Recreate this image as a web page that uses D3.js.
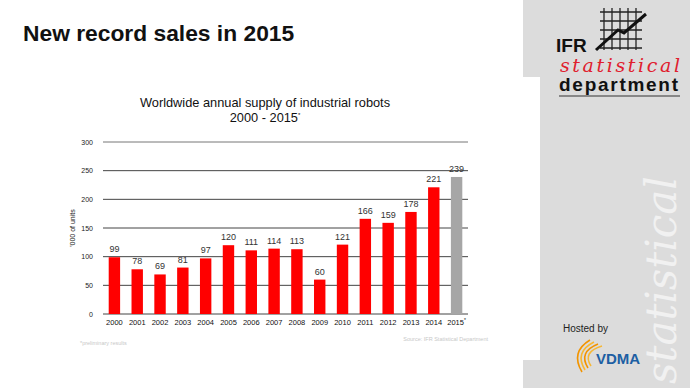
<!DOCTYPE html>
<html>
<head>
<meta charset="utf-8">
<script src="https://cdn.jsdelivr.net/npm/d3@7"></script>
<style>
  body { margin: 0; background: #fff; }
  svg { display: block; font-family: "Liberation Sans", Arial, sans-serif; }
</style>
</head>
<body>
<div id="chart-area"></div>
<script>
// IFR robots chart - worldwide annual supply

const years = ["2000","2001","2002","2003","2004","2005","2006","2007","2008","2009","2010","2011","2012","2013","2014","2015"]
const supply = [99, 78, 69, 81, 97, 120, 111, 114, 113, 60, 121, 166, 159, 178, 221, 239]
const preliminary = ["2015"]
const yTicks = [0, 50, 100, 150, 200, 250, 300]

const W = 690, H = 388
const MARGIN = {LEFT:103, RIGHT:222, TOP:142, BOTTOM:74}
const WIDTH = W - MARGIN.LEFT - MARGIN.RIGHT
const HEIGHT = H - MARGIN.TOP - MARGIN.BOTTOM

const svg = d3.select("#chart-area").append("svg")
    .attr("width", W)
    .attr("height", H)

// side panel
svg.append("path")
    .attr("d", "M523,0 H690 V388 H523 V360 H540 V77 H523 Z")
    .attr("fill", "#dcdcdc")

svg.append("text")
    .attr("transform", "translate(676, 384) rotate(-90)")
    .attr("font-family", "DejaVu Serif")
    .attr("font-style", "italic")
    .attr("font-size", 42)
    .attr("fill", "#fff")
    .attr("opacity", 0.6)
    .text("statistical")

// headline
svg.append("text")
    .attr("x", 23).attr("y", 41)
    .attr("font-size", 22.8)
    .attr("font-weight", "bold")
    .attr("fill", "#111")
    .text("New record sales in 2015")

// logo
const logo = svg.append("g")
const gx = d3.scaleLinear().domain([0, 4]).range([604, 636])
d3.range(5).forEach(i => {
    logo.append("line").attr("x1", gx(i)).attr("x2", gx(i)).attr("y1", 8).attr("y2", 50)
        .attr("stroke", "#222").attr("stroke-width", 1.3)
    logo.append("line").attr("x1", 600).attr("x2", 642).attr("y1", 12 + i * 9).attr("y2", 12 + i * 9)
        .attr("stroke", "#222").attr("stroke-width", 1.3)
})
logo.append("path")
    .attr("d", "M596,50 L618,30 L624,33 L646,14")
    .attr("fill", "none").attr("stroke", "#111").attr("stroke-width", 3)
logo.append("text").attr("x", 556).attr("y", 52)
    .attr("font-size", 19).attr("font-weight", "bold").attr("fill", "#111").text("IFR")
logo.append("text").attr("x", 560).attr("y", 72)
    .attr("font-family", "DejaVu Serif").attr("font-style", "italic")
    .attr("font-size", 19).attr("fill", "#e0202e").attr("textLength", 120).text("statistical")
logo.append("text").attr("x", 559).attr("y", 91)
    .attr("font-size", 19).attr("font-weight", "bold").attr("fill", "#111")
    .attr("textLength", 119).text("department")
logo.append("line").attr("x1", 559).attr("x2", 680).attr("y1", 96).attr("y2", 96)
    .attr("stroke", "#333").attr("stroke-width", 1)

// hosted by / VDMA
svg.append("text").attr("x", 563).attr("y", 332)
    .attr("font-size", 10).attr("fill", "#222").text("Hosted by")
const vd = svg.append("g")
;[0, 1, 2, 3].forEach(i => {
    vd.append("path")
        .attr("d", `M${582 + i * 3},${372 - i * 2} Q${570 + i * 4},${352} ${590 + i * 4},${340 + i * 2}`)
        .attr("fill", "none").attr("stroke", i % 2 ? "#f7b733" : "#f29400").attr("stroke-width", 1.6)
})
vd.append("text").attr("x", 596).attr("y", 364)
    .attr("font-size", 15).attr("font-weight", "bold").attr("fill", "#1d5fa3").text("VDMA")

// chart titles
svg.append("text").attr("x", 265).attr("y", 107)
    .attr("text-anchor", "middle").attr("font-size", 12.8).attr("fill", "#111")
    .text("Worldwide annual supply of industrial robots")
svg.append("text").attr("x", 265).attr("y", 122)
    .attr("text-anchor", "middle").attr("font-size", 12.8).attr("fill", "#111")
    .text("2000 - 2015")
    .append("tspan").attr("font-size", 6).attr("dy", -5).text("*")

const g = svg.append("g")
    .attr("transform", `translate(${MARGIN.LEFT}, ${MARGIN.TOP})`)

const x = d3.scaleBand()
    .domain(years)
    .range([0, WIDTH])
    .paddingInner(0.5)
    .paddingOuter(0.25)

const y = d3.scaleLinear()
    .domain([0, 300])
    .range([HEIGHT, 0])

// gridlines
g.selectAll(".grid").data(yTicks).enter().append("line")
    .attr("class", "grid")
    .attr("x1", 0).attr("x2", WIDTH)
    .attr("y1", d => y(d)).attr("y2", d => y(d))
    .attr("stroke", d => d === 300 ? "#777" : "#444")
    .attr("stroke-width", 1)

const yAxisCall = d3.axisLeft(y).tickValues(yTicks).tickSize(0).tickPadding(10)
const yAx = g.append("g").call(yAxisCall)
yAx.select(".domain").remove()
yAx.selectAll("text").attr("font-size", 7).attr("fill", "#222")

g.append("text")
    .attr("transform", "rotate(-90)")
    .attr("x", -(y(150) - 0)).attr("y", -28)
    .attr("text-anchor", "middle").attr("font-size", 7).attr("fill", "#222")
    .text("'000 of units")

const xAxisCall = d3.axisBottom(x).tickSize(0).tickPadding(6)
const xAx = g.append("g")
    .attr("transform", `translate(0, ${HEIGHT})`)
    .call(xAxisCall)
xAx.select(".domain").remove()
xAx.selectAll("text").attr("font-size", 7.5).attr("fill", "#111")
xAx.selectAll(".tick text").filter(d => preliminary.includes(d))
    .append("tspan").attr("font-size", 5).attr("dy", -3).text("*")

g.selectAll("rect").data(supply).enter().append("rect")
    .attr("x", (d, i) => x(years[i]))
    .attr("y", d => y(d))
    .attr("width", x.bandwidth())
    .attr("height", d => HEIGHT - y(d))
    .attr("fill", (d, i) => preliminary.includes(years[i]) ? "#a6a6a6" : "#ff0000")

g.selectAll(".val").data(supply).enter().append("text")
    .attr("class", "val")
    .attr("x", (d, i) => x(years[i]) + x.bandwidth() / 2)
    .attr("y", d => y(d) - 5)
    .attr("text-anchor", "middle")
    .attr("font-size", 9).attr("fill", "#333")
    .text(d => d)

// notes
svg.append("text").attr("x", 80).attr("y", 345)
    .attr("font-size", 5.5).attr("fill", "#c8c8c8").text("*preliminary results")
svg.append("text").attr("x", 488).attr("y", 341)
    .attr("text-anchor", "end")
    .attr("font-size", 5.5).attr("fill", "#c8c8c8").text("Source: IFR Statistical Department")
</script>
</body>
</html>
